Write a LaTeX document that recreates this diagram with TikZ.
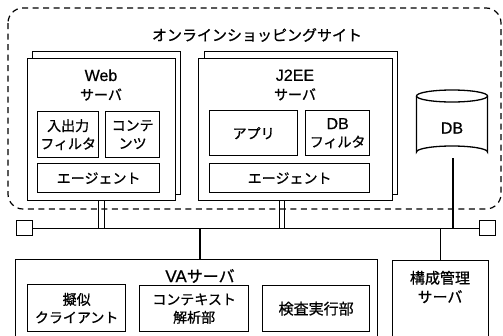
\documentclass[tikz,border=0pt]{standalone}
\usepackage{fontspec}
\setmainfont{Noto Sans CJK JP}[FakeBold=0.9]
\newfontfamily\latfam{Liberation Sans}[FakeBold=0.6]
\newcommand\lat[1]{{\latfam\fontsize{16}{18}\selectfont #1}}
\newcommand\jpf{\fontsize{14}{18}\selectfont}
\begin{document}
\begin{tikzpicture}[x=1pt,y=-1pt,
  box/.style={draw, line width=1.3pt, fill=white, rectangle, inner sep=0pt, anchor=north west, align=center, font=\jpf},
  lbl/.style={inner sep=0pt, align=center, font=\jpf},
  conn/.style={line width=1.2pt},
  site/.style={draw, line width=1.2pt, dash pattern=on 6pt off 4.5pt, rounded corners=15pt}]
\clip (0,0) rectangle (503,335);
\useasboundingbox (0,0) rectangle (503,335);

% site
\draw[site] (8,8) rectangle (501,209);
\node[lbl, font=\fontsize{15}{18}\selectfont] (title) at (257,35) {オンラインショッピングサイト};

% Web server
\node[box, minimum width=148, minimum height=143] (webback) at (32,51) {};
\node[box, minimum width=148, minimum height=142] (web) at (27,58) {};
\node[lbl] (webt) at (101,85) {\lat{Web}\\[1pt]サーバ};
\node[box, minimum width=61, minimum height=46] (io) at (37,111) {入出力\\フィルタ};
\node[box, minimum width=54, minimum height=46] (cont) at (105,111) {コンテ\\ンツ};
\node[box, minimum width=122, minimum height=29] (wag) at (37,163) {エージェント};

% J2EE server
\node[box, minimum width=193, minimum height=143] (j2back) at (204,51) {};
\node[box, minimum width=194, minimum height=142] (j2) at (198,58) {};
\node[lbl] (j2t) at (295,85) {\lat{J2EE}\\[1pt]サーバ};
\node[box, minimum width=88, minimum height=45] (app) at (209,110) {アプリ};
\node[box, minimum width=64, minimum height=45] (dbf) at (305,110) {\lat{DB}\\フィルタ};
\node[box, minimum width=160, minimum height=29] (jag) at (209,163) {エージェント};

% DB cylinder
\filldraw[fill=white, line width=1.3pt] (416.5,96) -- (416.5,152) arc[start angle=180, end angle=360, x radius=35.5, y radius=6] -- (487.5,96);
\draw[line width=1.3pt] (452,96) ellipse[x radius=35.5, y radius=6];
\node[lbl] (db) at (452,128) {\lat{DB}};
\coordinate (dbbot) at (453,158);

% bus
\node[box, minimum width=16, minimum height=15] (sqL) at (16,220) {};
\node[box, minimum width=16, minimum height=15] (sqR) at (479,220) {};
\draw[conn] (sqL.east) -- (sqR.west);

% VA server
\node[box, minimum width=362, minimum height=100] (va) at (15,259) {};
\node[lbl, font=\fontsize{16}{18}\selectfont] (vat) at (200,276) {{\latfam\fontsize{17}{18}\selectfont VA}サーバ};
\node[box, minimum width=98, minimum height=47] (pc) at (27,284) {擬似\\クライアント};
\node[box, minimum width=109, minimum height=46] (ctx) at (139,285) {コンテキスト\\解析部};
\node[box, minimum width=107, minimum height=46, font=\fontsize{15}{18}\selectfont] (ins) at (262,285) {検査実行部};

% config server
\node[box, minimum width=96, minimum height=100] (cm) at (392,260) {};
\node[lbl, font=\fontsize{15}{19}\selectfont] (cmt) at (440,287) {構成管理\\サーバ};

% connectors
\draw[conn] ([xshift=-3pt]web.south) -- ([xshift=-3pt]web.south |- sqL.east);
\draw[conn] ([xshift=3pt]web.south) -- ([xshift=3pt]web.south |- sqL.east);
\draw[conn] ([xshift=-16pt]j2.south) -- ([xshift=-16pt]j2.south |- sqL.east);
\draw[conn] ([xshift=-11pt]j2.south) -- ([xshift=-11pt]j2.south |- sqL.east);
\draw[conn] (dbbot) -- (dbbot |- sqL.east);
\draw[conn] (vat |- va.north) -- (vat |- sqL.east);
\draw[conn] (cm.north) -- (cm.north |- sqL.east);
\end{tikzpicture}
\end{document}
